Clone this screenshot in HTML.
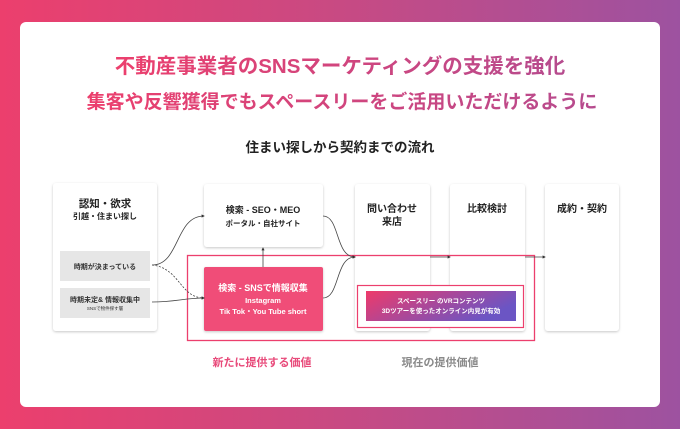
<!DOCTYPE html>
<html><head><meta charset="utf-8"><style>
html,body{margin:0;padding:0;width:680px;height:429px;overflow:hidden}
body{background:linear-gradient(90deg,#ec3f6d 0%,#c84a83 50%,#9d52a0 100%)}
svg{display:block;font-family:"Liberation Sans","Noto Sans CJK JP",sans-serif}
</style></head><body>
<svg width="680" height="429" viewBox="0 0 680 429">
<defs>
<linearGradient id="tg" x1="0" x2="1"><stop offset="0" stop-color="#ec3f6d"/><stop offset="1" stop-color="#b64b8e"/></linearGradient>
<linearGradient id="bg" x1="0" y1="0" x2="1" y2="0.4"><stop offset="0" stop-color="#ee3a6a"/><stop offset="1" stop-color="#6b55c4"/></linearGradient>
<filter id="sh" x="-10%" y="-10%" width="120%" height="120%"><feDropShadow dx="0" dy="1" stdDeviation="1.2" flood-color="#000" flood-opacity="0.22"/></filter>
<marker id="ar" markerWidth="4" markerHeight="4" refX="3" refY="2" orient="auto"><path d="M0,0 L4,2 L0,4z" fill="#333"/></marker>
</defs>
<rect x="20" y="22" width="640" height="385" rx="6" fill="#fff"/>
<text x="340" y="73" text-anchor="middle" font-size="20.5" font-weight="bold" fill="url(#tg)">不動産事業者のSNSマーケティングの支援を強化</text>
<text x="342" y="108" text-anchor="middle" font-size="19" font-weight="bold" fill="url(#tg)">集客や反響獲得でもスペースリーをご活用いただけるように</text>
<text x="340" y="152" text-anchor="middle" font-size="13.5" font-weight="bold" fill="#222">住まい探しから契約までの流れ</text>

<g filter="url(#sh)" fill="#fff">
<rect x="53" y="183" width="104" height="148" rx="3"/>
<rect x="204" y="184" width="119" height="63" rx="3"/>
<rect x="355" y="184" width="75" height="147" rx="3"/>
<rect x="450" y="184" width="75" height="147" rx="3"/>
<rect x="545" y="184" width="74" height="147" rx="3"/>
</g>
<rect x="60" y="251" width="90" height="30" fill="#e6e6e6"/>
<rect x="60" y="288" width="90" height="30" fill="#e6e6e6"/>

<text x="105" y="207" text-anchor="middle" font-size="10.5" font-weight="bold" fill="#222">認知・欲求</text>
<text x="105" y="219" text-anchor="middle" font-size="8" font-weight="bold" fill="#222">引越・住まい探し</text>
<text x="105" y="269" text-anchor="middle" font-size="7" font-weight="bold" fill="#333">時期が決まっている</text>
<text x="105" y="302" text-anchor="middle" font-size="7" font-weight="bold" fill="#333">時期未定&amp; 情報収集中</text>
<text x="105" y="310" text-anchor="middle" font-size="4.5" fill="#333">SNSで物件探す層</text>
<text x="263" y="213" text-anchor="middle" font-size="9" font-weight="bold" fill="#222">検索 - SEO・MEO</text>
<text x="263" y="226" text-anchor="middle" font-size="7.5" font-weight="bold" fill="#222">ポータル・自社サイト</text>
<text x="392" y="212" text-anchor="middle" font-size="10" font-weight="bold" fill="#222">問い合わせ</text>
<text x="392" y="225" text-anchor="middle" font-size="10" font-weight="bold" fill="#222">来店</text>
<text x="487" y="212" text-anchor="middle" font-size="10" font-weight="bold" fill="#222">比較検討</text>
<text x="582" y="212" text-anchor="middle" font-size="10" font-weight="bold" fill="#222">成約・契約</text>

<rect x="187.5" y="255.5" width="347" height="85" fill="none" stroke="#ec3f6d" stroke-width="1.3"/>
<rect x="204" y="267" width="119" height="64" rx="2" fill="#f04e78" filter="url(#sh)"/>
<text x="263" y="291" text-anchor="middle" font-size="9" font-weight="bold" fill="#fff">検索 - SNSで情報収集</text>
<text x="263" y="303" text-anchor="middle" font-size="7.5" font-weight="bold" fill="#fff">Instagram</text>
<text x="263" y="314" text-anchor="middle" font-size="7.5" font-weight="bold" fill="#fff">Tik Tok・You Tube short</text>

<rect x="357.5" y="285.5" width="166" height="42" fill="#fff" stroke="#ec3f6d" stroke-width="1.2"/>
<rect x="366" y="291" width="150" height="30" fill="url(#bg)"/>
<text x="441" y="303" text-anchor="middle" font-size="6.5" font-weight="bold" fill="#fff">スペースリー のVRコンテンツ</text>
<text x="441" y="313" text-anchor="middle" font-size="6.5" font-weight="bold" fill="#fff">3Dツアーを使ったオンライン内見が有効</text>

<g fill="none" stroke="#444" stroke-width="0.8">
<path d="M152,265 C180,265 175,216 204,216" marker-end="url(#ar)"/>
<path d="M152,265 C180,268 180,298 204,298" stroke-dasharray="2,1.5" marker-end="url(#ar)"/>
<path d="M152,302 C175,302 185,298 204,298" marker-end="url(#ar)"/>
<path d="M263,267 L263,248" marker-end="url(#ar)"/>
<path d="M323,216 C340,216 335,257 355,257" marker-end="url(#ar)"/>
<path d="M323,298 C340,298 335,257 355,257" marker-end="url(#ar)"/>
<path d="M430,257 L450,257" marker-end="url(#ar)"/>
<path d="M525,257 L545,257" marker-end="url(#ar)"/>
</g>

<text x="262" y="366" text-anchor="middle" font-size="11" font-weight="bold" fill="#e84a7a">新たに提供する価値</text>
<text x="440" y="366" text-anchor="middle" font-size="11" font-weight="bold" fill="#8a8a8a">現在の提供価値</text>
</svg>
</body></html>
